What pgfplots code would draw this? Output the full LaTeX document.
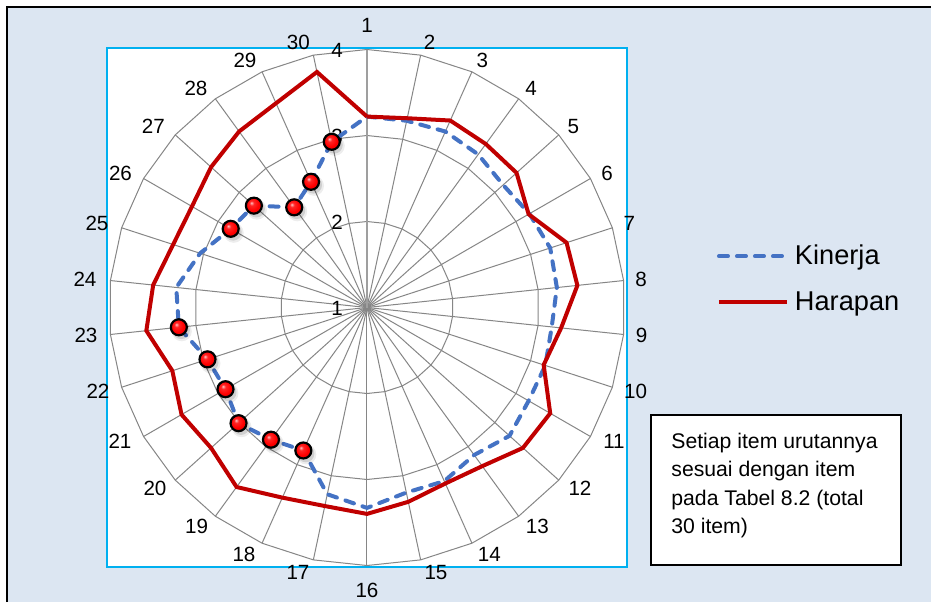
\documentclass[border=0pt]{standalone}
\usepackage{pgfplots}
\pgfplotsset{compat=1.18}
\usepackage{pgfplotstable}
\usepackage{fontspec}
\setmainfont{Liberation Sans}
\definecolor{bgblue}{RGB}{220,230,242}
\definecolor{plotborder}{RGB}{0,176,240}
\definecolor{gridc}{RGB}{134,134,134}
\definecolor{kblue}{RGB}{68,114,196}
\definecolor{hred}{RGB}{192,0,0}

\pgfdeclareradialshading{redball}{\pgfqpoint{-8bp}{9bp}}{%
  color(0bp)=(rgb,1:red,1;green,0.78;blue,0.78);
  color(7bp)=(rgb,1:red,1;green,0.15;blue,0.15);
  color(20bp)=(rgb,1:red,1;green,0;blue,0);
  color(32bp)=(rgb,1:red,0.86;green,0;blue,0);
  color(50bp)=(rgb,1:red,0.62;green,0;blue,0)}
\pgfdeclareplotmark{redball}{%
  \pgfpathcircle{\pgfpointorigin}{\pgfplotmarksize}%
  \pgfshadepath{redball}{0}%
  \pgfsetlinewidth{1.1pt}\pgfsetstrokecolor{black}%
  \pgfusepath{stroke}}
\pgfdeclareplotmark{shadowdot}{%
  \pgfpathcircle{\pgfpointorigin}{\pgfplotmarksize}%
  \pgfusepath{fill}}

% item, Kinerja, Harapan, mk = 1 if the point carries a marker; row 31 closes the polygon
\pgfplotstableread{
item kinerja harapan mk
1  3.22 3.22 0
2  3.22 3.25 0
3  3.24 3.38 0
4  3.20 3.35 0
5  3.13 3.34 0
6  3.18 3.17 0
7  3.24 3.44 0
8  3.22 3.46 0
9  3.16 3.27 0
10 3.18 3.16 0
11 3.17 3.46 0
12 3.23 3.44 0
13 3.12 3.28 0
14 3.21 3.24 0
15 3.20 3.31 0
16 3.33 3.40 0
17 3.22 3.36 0
18 2.82 3.42 1
19 2.90 3.58 1
20 3.01 3.44 1
21 2.90 3.49 1
22 2.95 3.38 1
23 3.20 3.58 1
24 3.23 3.50 0
25 3.04 3.37 0
26 2.83 3.35 1
27 2.77 3.44 1
28 2.44 3.53 1
29 2.60 3.60 1
30 2.97 3.80 1
31 3.22 3.22 0
}\radar

\begin{document}
\begin{tikzpicture}
\path[use as bounding box] (-183.5pt,-147.25pt) rectangle (282pt,153.75pt);
\fill[white] (-183.5pt,-147.25pt) rectangle (282pt,153.75pt);
\fill[bgblue] (-180pt,-147.25pt) rectangle (282pt,150.25pt);
\draw[black, line width=1pt] (-180pt,-147.25pt) -- (-180pt,150.25pt) -- (282pt,150.25pt);
% plot area
\draw[plotborder, line width=1pt, fill=white] (-129.85pt,-129.6pt) rectangle (129.85pt,129.6pt);
% radar grid
\foreach \r in {43pt,86pt,129pt}{
  \draw[gridc, line width=0.5pt] (90:\r) \foreach \i in {1,...,29}{ -- ({90-12*\i}:\r)} -- cycle;
}
\foreach \i in {1,...,29}{
  \draw[gridc, line width=0.5pt] (0,0) -- ({90-12*\i}:129pt);
}
\draw[gray!75, line width=1pt] (0,0) -- (90:129pt);
% category labels
\foreach \i/\x/\y in {1/0/141.25, 2/31.25/132.4, 3/57.65/123.5, 4/82/109.5, 5/103.15/90.4,
  6/120/67, 7/131.15/42, 8/137/14, 9/137.35/-14, 10/134.35/-42, 11/123.5/-67,
  12/106.5/-90.4, 13/85.15/-109.5, 14/61.15/-123.5, 15/34.5/-132.4, 16/0/-141.25,
  17/-34.5/-132.4, 18/-61.5/-123.5, 19/-85.15/-109.5, 20/-106/-90.4, 21/-123.5/-67,
  22/-134.5/-42, 23/-140.5/-14, 24/-141/14, 25/-135/42, 26/-123.25/67,
  27/-106.85/90.4, 28/-85.5/109.5, 29/-61/123.5, 30/-34.35/132.4}{
  \node[inner sep=0pt, font=\fontsize{10.3}{12}\selectfont] at (\x pt,\y pt) {\i};
}
% value labels
\foreach \v/\r in {1/0,2/43,3/86,4/129}{
  \node[inner sep=0pt, font=\fontsize{10.3}{12}\selectfont] at (-15pt,\r pt-0.3pt) {\v};
}
\begin{axis}[
  at={(0,0)}, anchor=center,
  x=43pt, y=43pt,
  xmin=-3.3, xmax=3.3, ymin=-3.3, ymax=3.3,
  hide axis, clip=false,
  legend style={at={(axis description cs:1.1166,0.5502)}, anchor=west,
    draw=none, fill=none, inner sep=0pt, outer sep=0pt,
    font=\fontsize{13.6}{16}\selectfont, row sep=12pt, column sep=3pt,
    nodes={inner sep=0pt}},
  legend cell align=left,
  legend image code/.code={\draw[#1] (0pt,0pt) -- (34pt,0pt);},
]
\addplot[kblue, line width=2pt, dash pattern=on 4.5pt off 4.5pt, line cap=round, line join=round, no markers]
  table[x expr={(\thisrow{kinerja}-1)*sin((\thisrow{item}-1)*12)},
        y expr={(\thisrow{kinerja}-1)*cos((\thisrow{item}-1)*12)}] {\radar};
\addplot[hred, line width=2pt, line join=miter, no markers]
  table[x expr={(\thisrow{harapan}-1)*sin((\thisrow{item}-1)*12)},
        y expr={(\thisrow{harapan}-1)*cos((\thisrow{item}-1)*12)}] {\radar};
\legend{Kinerja,Harapan}
% soft marker shadows
\addplot[only marks, forget plot, mark=shadowdot, mark size=5pt,
  mark options={fill=black, fill opacity=0.07, xshift=1.5pt, yshift=-2pt},
  restrict expr to domain={\thisrow{mk}}{0.5:1.5}]
  table[x expr={(\thisrow{kinerja}-1)*sin((\thisrow{item}-1)*12)},
        y expr={(\thisrow{kinerja}-1)*cos((\thisrow{item}-1)*12)}] {\radar};
\addplot[only marks, forget plot, mark=shadowdot, mark size=4.3pt,
  mark options={fill=black, fill opacity=0.12, xshift=1.2pt, yshift=-1.6pt},
  restrict expr to domain={\thisrow{mk}}{0.5:1.5}]
  table[x expr={(\thisrow{kinerja}-1)*sin((\thisrow{item}-1)*12)},
        y expr={(\thisrow{kinerja}-1)*cos((\thisrow{item}-1)*12)}] {\radar};
% red balls
\addplot[only marks, forget plot, mark=redball, mark size=4pt,
  restrict expr to domain={\thisrow{mk}}{0.5:1.5}]
  table[x expr={(\thisrow{kinerja}-1)*sin((\thisrow{item}-1)*12)},
        y expr={(\thisrow{kinerja}-1)*cos((\thisrow{item}-1)*12)}] {\radar};
\end{axis}
% note box
\draw[black, line width=0.9pt, fill=white] (142pt,-53.75pt) rectangle (267pt,-128.75pt);
\begin{scope}[every node/.style={anchor=base west, inner sep=0pt, font=\fontsize{10.6}{12}\selectfont}]
\node at (152pt,-70.4pt) {Setiap item urutannya};
\node at (152pt,-84.6pt) {sesuai dengan item};
\node at (152pt,-98.8pt) {pada Tabel 8.2 (total};
\node at (152pt,-113.0pt) {30 item)};
\end{scope}
\end{tikzpicture}
\end{document}
